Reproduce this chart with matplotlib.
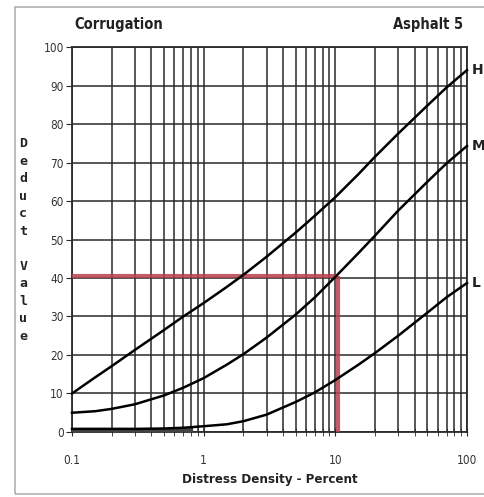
import matplotlib
matplotlib.use("Agg")
from matplotlib import pyplot as plt
from matplotlib.patches import Rectangle
from matplotlib.ticker import FixedLocator, NullFormatter, LogLocator

# --- data ---
density = [0.1, 0.15, 0.2, 0.3, 0.5, 0.7, 1, 1.5, 2, 3, 5, 7, 10, 15, 20, 30, 50, 70, 100]
high = [10, 14.2, 17.1, 21.3, 26.5, 30, 33.5, 37.7, 40.8, 45.5, 51.8, 56.2, 61, 67, 71.5, 77.5, 84.8, 89.5, 94]
medium = [5, 5.4, 6, 7.2, 9.5, 11.5, 14, 17.5, 20.2, 24.5, 30.5, 35, 40.3, 46.5, 51, 57.5, 65, 69.8, 74.3]
low = [0.8, 0.8, 0.8, 0.8, 0.9, 1.1, 1.5, 2.0, 2.8, 4.5, 7.8, 10.3, 13.5, 17.5, 20.5, 25, 31, 35, 38.7]
curve_names = ["H", "M", "L"]
x_ticks = [0.1, 1, 10, 100]
x_tick_labels = ["0.1", "1", "10", "100"]
y_ticks = list(range(0, 101, 10))
example_density = 10.5
example_deduct = 40.5

fig = plt.figure(figsize=(4.84, 4.97), dpi=100)
fig.patches.append(Rectangle((0.031, 0.006), 0.99, 0.98, transform=fig.transFigure,
                             fill=False, edgecolor="#b0b0b0", linewidth=1.2))
ax = fig.add_axes([0.1488, 0.1308, 0.8161, 0.7746])

ax.set_xscale("log")
ax.set_xlim(0.1, 100)
ax.set_ylim(0, 100)

# grid: all decade + minor lines
ax.xaxis.set_major_locator(FixedLocator(x_ticks))
ax.xaxis.set_minor_locator(LogLocator(base=10, subs=range(2, 10)))
ax.xaxis.set_minor_formatter(NullFormatter())
ax.set_xticklabels(x_tick_labels)
ax.set_yticks(y_ticks)
ax.grid(True, which="both", color="#2a2a2a", linewidth=1.1)
ax.set_axisbelow(True)
for s in ax.spines.values():
    s.set_color("#2a2a2a")
    s.set_linewidth(1.3)

ax.tick_params(axis="x", which="both", direction="inout", length=6, color="#2a2a2a", pad=13)
ax.tick_params(axis="y", direction="out", length=4, color="#2a2a2a", pad=2)
for lab in ax.get_xticklabels() + ax.get_yticklabels():
    lab.set_fontfamily("DejaVu Sans")
    lab.set_fontstretch("condensed")
    lab.set_fontsize(8.5)
    lab.set_color("#333333")

# example reading in red
ax.plot([0.1, example_density], [example_deduct, example_deduct], color="#b8404e", lw=3, alpha=0.85,
        solid_capstyle="butt", zorder=3)
ax.plot([example_density, example_density], [0, example_deduct], color="#b8404e", lw=3, alpha=0.85,
        solid_capstyle="butt", zorder=3)

for vals, name in zip([high, medium, low], curve_names):
    ax.plot(density, vals, color="black", lw=1.8, zorder=4, clip_on=False, solid_joinstyle="round")
    ax.text(1.012, vals[-1] / 100, name, transform=ax.transAxes, ha="left", va="center",
            fontsize=10, fontweight="bold", color="#222222")

# thick band at the bottom where L hugs zero
ax.axhline(0.4, xmax=0.3, color="#444444", lw=3, zorder=3)

bold = dict(fontsize=10.5, fontweight="bold", color="#222222", family="DejaVu Sans", stretch="condensed")
ax.text(0.005, 1.04, "Corrugation", transform=ax.transAxes, ha="left", va="bottom", **bold)
ax.text(0.99, 1.04, "Asphalt 5", transform=ax.transAxes, ha="right", va="bottom", **bold)
ax.set_xlabel("Distress Density - Percent", fontsize=9.5, fontweight="bold", color="#222222",
              family="DejaVu Sans", stretch="condensed", labelpad=4)
fig.text(0.048, 0.517, "D\ne\nd\nu\nc\nt\n\nV\na\nl\nu\ne", ha="center", va="center",
         fontsize=9.5, fontweight="bold", color="#222222", family="DejaVu Sans Mono", linespacing=1.45)

fig.savefig("out.png", dpi=100)
